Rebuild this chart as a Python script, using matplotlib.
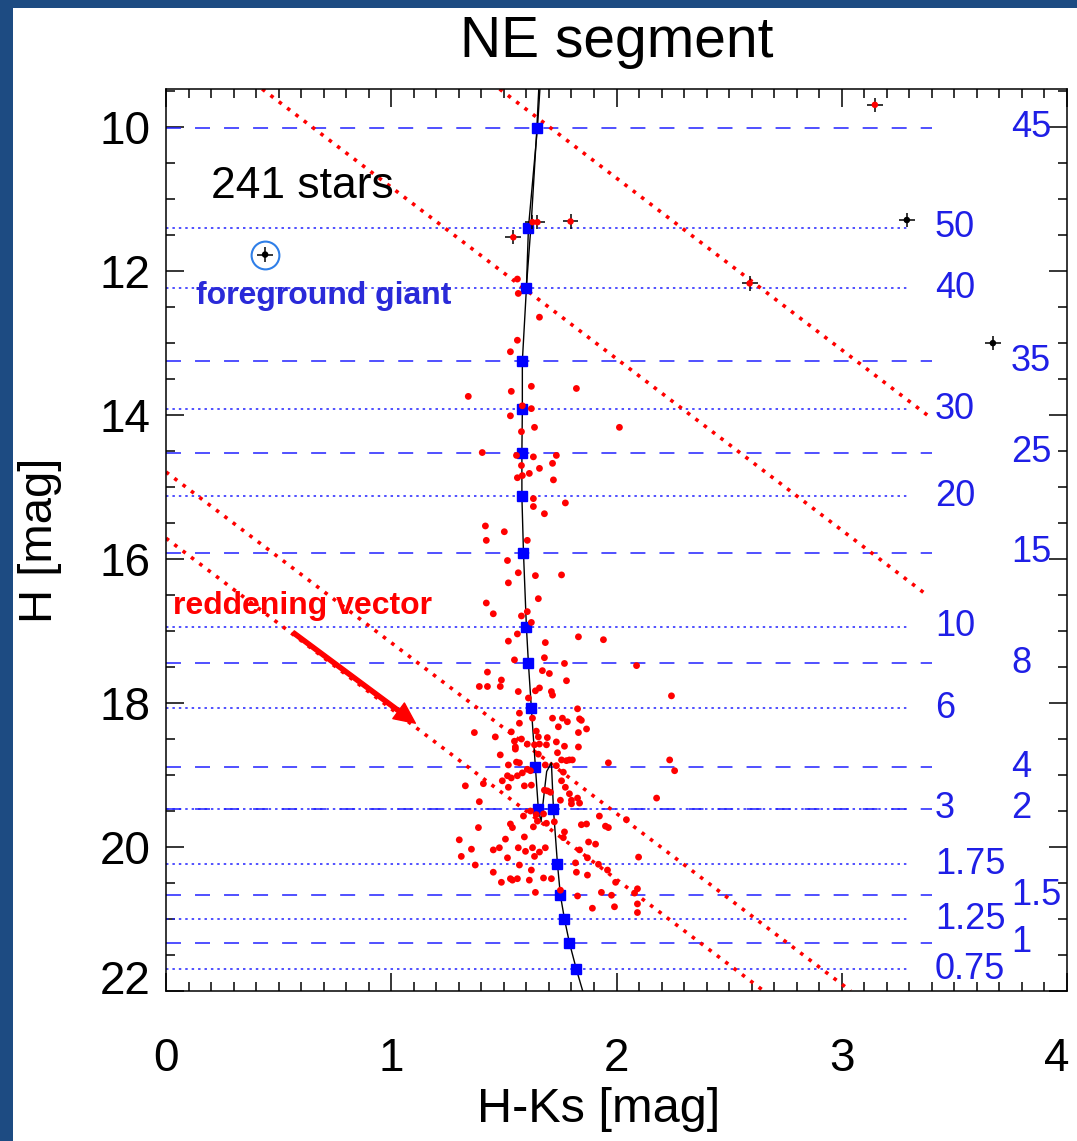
import matplotlib.pyplot as plt
from matplotlib.patches import Rectangle
from matplotlib.ticker import MultipleLocator
from matplotlib.transforms import ScaledTranslation

plt.rcParams['font.family'] = ['Liberation Sans', 'DejaVu Sans']

# faint stars (red dots): H-Ks colour and H magnitude
star_col = [1.56, 1.564, 1.658, 1.56, 1.529, 1.622, 1.822, 1.342, 1.533, 1.582,
            1.622, 1.529, 1.636, 1.578, 2.013, 1.404, 1.556, 1.631, 1.733, 1.578,
            1.716, 1.658, 1.56, 1.582, 1.613, 1.72, 1.631, 1.773, 1.631, 1.68,
            1.418, 1.502, 1.422, 1.604, 1.516, 1.564, 1.64, 1.756, 1.52, 1.653,
            1.422, 1.453, 1.578, 1.604, 1.622, 1.56, 1.52, 1.684, 1.831, 1.942,
            1.547, 1.68, 1.769, 2.089, 1.427, 1.671, 1.702, 1.489, 1.778, 1.391,
            1.427, 1.484, 1.564, 1.64, 1.658, 1.711, 1.716, 1.609, 2.244, 1.827,
            1.569, 1.627, 1.716, 1.76, 1.836, 1.844, 1.782, 1.569, 1.742, 1.867,
            1.369, 1.533, 1.831, 1.644, 1.462, 1.547, 1.578, 1.653, 1.693, 1.733,
            1.551, 1.604, 1.636, 1.658, 1.689, 1.769, 1.831, 1.484, 1.551, 1.653,
            1.738, 1.756, 1.778, 1.791, 1.804, 1.556, 1.569, 1.964, 2.236, 2.258,
            1.52, 1.684, 1.733, 1.582, 1.604, 1.618, 1.764, 1.56, 1.516, 1.533,
            1.329, 1.409, 1.493, 1.52, 1.591, 1.622, 1.756, 1.773, 1.68, 1.693,
            1.707, 1.791, 1.827, 1.751, 1.8, 1.8, 1.836, 1.391, 2.178, 1.924,
            2.044, 1.587, 1.618, 1.644, 1.676, 1.649, 1.689, 1.724, 1.867, 1.844,
            1.951, 1.964, 1.631, 1.387, 1.529, 1.538, 1.769, 1.302, 1.507, 1.591,
            1.764, 1.876, 1.907, 1.356, 1.453, 1.48, 1.564, 1.596, 1.627, 1.658,
            1.684, 1.836, 2.098, 1.311, 1.516, 1.636, 1.871, 1.373, 1.569, 1.92,
            1.818, 1.96, 1.453, 1.622, 1.529, 1.56, 1.676, 1.711, 1.822, 1.489,
            1.538, 1.613, 1.871, 1.64, 1.827, 1.933, 1.996, 2.093, 2.08, 1.893,
            1.991, 2.093, 2.093, 1.751, 1.978]
star_mag = [12.11, 12.31, 12.64, 12.96, 13.12, 13.60, 13.63, 13.74, 13.67, 13.87,
            13.91, 14.01, 14.17, 14.23, 14.17, 14.52, 14.56, 14.58, 14.56, 14.70,
            14.67, 14.74, 14.87, 14.84, 14.81, 14.90, 15.16, 15.22, 15.27, 15.37,
            15.54, 15.62, 15.74, 15.74, 16.02, 16.19, 16.23, 16.22, 16.33, 16.55,
            16.61, 16.76, 16.79, 16.73, 16.88, 17.04, 17.14, 17.16, 17.08, 17.12,
            17.40, 17.37, 17.45, 17.48, 17.57, 17.55, 17.59, 17.68, 17.69, 17.77,
            17.77, 17.77, 17.84, 17.83, 17.79, 17.84, 17.89, 17.93, 17.90, 18.08,
            18.14, 18.21, 18.21, 18.21, 18.22, 18.24, 18.26, 18.28, 18.33, 18.36,
            18.41, 18.40, 18.41, 18.39, 18.47, 18.53, 18.50, 18.47, 18.48, 18.54,
            18.61, 18.57, 18.58, 18.57, 18.58, 18.60, 18.61, 18.72, 18.64, 18.71,
            18.69, 18.79, 18.80, 18.79, 18.79, 18.82, 18.83, 18.83, 18.79, 18.94,
            18.86, 18.86, 18.87, 18.97, 18.92, 18.94, 18.96, 19.01, 19.01, 19.04,
            19.15, 19.12, 19.08, 19.17, 19.15, 19.14, 19.08, 19.17, 19.21, 19.22,
            19.24, 19.26, 19.32, 19.35, 19.35, 19.40, 19.39, 19.37, 19.32, 19.57,
            19.62, 19.57, 19.50, 19.55, 19.54, 19.64, 19.67, 19.65, 19.68, 19.69,
            19.71, 19.73, 19.72, 19.73, 19.68, 19.73, 19.79, 19.90, 19.89, 19.86,
            19.87, 19.93, 19.96, 20.03, 20.04, 20.01, 20.01, 20.06, 20.01, 20.07,
            20.01, 20.04, 20.14, 20.13, 20.15, 20.13, 20.15, 20.25, 20.25, 20.24,
            20.22, 20.32, 20.35, 20.32, 20.44, 20.44, 20.43, 20.44, 20.35, 20.49,
            20.46, 20.46, 20.39, 20.63, 20.68, 20.63, 20.49, 20.58, 20.64, 20.85,
            20.83, 20.79, 20.91, 20.60, 20.67]

# bright stars with error bars
bright_col = [3.147, 3.289, 3.671, 2.591, 1.796, 1.627, 1.649, 1.542, 0.44]
bright_mag = [9.69, 11.29, 13.0, 12.17, 11.31, 11.32, 11.32, 11.53, 11.77]
bright_face = ['red', 'black', 'black', 'red', 'red', 'red', 'red', 'red', 'black']
giant_col = 0.44
giant_mag = 11.77

# isochrone mass levels (dotted lines, labels in left column)
dot_mass = ['50', '40', '30', '20', '10', '6', '3', '1.75', '1.25', '0.75']
dot_mag = [11.40, 12.24, 13.92, 15.13, 16.94, 18.07, 19.47, 20.24, 21.0, 21.70]
dot_iso_col = [1.609, 1.600, 1.582, 1.58, 1.60, 1.622, 1.653, 1.738, 1.769, 1.822]

# isochrone mass levels (dashed lines, labels in right column)
dash_mass = ['45', '35', '25', '15', '8', '4', '2', '1.5', '1']
dash_mag = [10.01, 13.25, 14.52, 15.91, 17.45, 18.89, 19.47, 20.67, 21.33]
dash_iso_col = [1.649, 1.582, 1.58, 1.587, 1.609, 1.64, 1.72, 1.751, 1.791]

# isochrone track
iso_col = [1.85, 1.822, 1.791, 1.769, 1.751, 1.738, 1.72, 1.711, 1.69, 1.677,
           1.665, 1.653, 1.64, 1.622, 1.609, 1.60, 1.587, 1.58, 1.58, 1.582,
           1.582, 1.60, 1.609, 1.649, 1.66]
iso_mag = [22.0, 21.70, 21.33, 21.0, 20.67, 20.24, 19.47, 18.83, 18.95, 19.3,
           19.65, 19.47, 18.89, 18.07, 17.45, 16.94, 15.91, 15.13, 14.52, 13.92,
           13.25, 12.24, 11.40, 10.01, 9.47]
iso2_col = [1.598, 1.622, 1.645, 1.655]
iso2_mag = [12.3, 11.3, 10.1, 9.47]

# reddening lines (start / end points)
red_col0 = [1.481, 0.427, 0.0, 0.0]
red_mag0 = [9.47, 9.47, 14.79, 15.71]
red_col1 = [3.38, 3.37, 3.04, 2.654]
red_mag1 = [14.0, 16.48, 22.0, 22.0]

vec_start = (0.564, 17.02)
vec_end = (1.107, 18.28)

fig = plt.figure(figsize=(10.77, 11.41), dpi=100)
fig.patch.set_facecolor('#1d4b82')
fig.add_artist(Rectangle((13 / 1077, 0), 1, 1 - 8 / 1141, transform=fig.transFigure,
                         facecolor='white', edgecolor='none', zorder=-5))

ax = fig.add_axes([166 / 1077, 1 - 991 / 1141, 901 / 1077, 902 / 1141])
ax.set_xlim(0, 4)
ax.set_ylim(22, 9.47)

# horizontal mass lines and labels
for m, lab in zip(dot_mag, dot_mass):
    ax.plot([0, 3.29], [m, m], color='#2020ff', lw=1.1, dashes=(1.6, 2.6))
    ax.text(3.413, m, lab, color='#1f1fe6', fontsize=26, ha='left', va='center')
for m, lab in zip(dash_mag, dash_mass):
    ax.plot([0, 3.40], [m, m], color='#2020ff', lw=1.1, dashes=(9.8, 9.2))
    ax.text(3.751, m, lab, color='#1f1fe6', fontsize=26, ha='left', va='center')

# reddening lines
for c0, m0, c1, m1 in zip(red_col0, red_mag0, red_col1, red_mag1):
    ax.plot([c0, c1], [m0, m1], color='red', lw=2.6, dashes=(1, 1.9))

# isochrone
ax.plot(iso_col, iso_mag, color='black', lw=1)
ax.plot(iso2_col, iso2_mag, color='black', lw=1)
ax.plot(dot_iso_col, dot_mag, 's', color='blue', ms=6.5, zorder=4)
ax.plot(dash_iso_col, dash_mag, 's', color='blue', ms=6.5, zorder=4)

# stars
ax.scatter(star_col, star_mag, s=24, color='red', edgecolors='none', zorder=5)
ax.errorbar(bright_col, bright_mag, xerr=0.035, yerr=0.1, fmt='none',
            ecolor='black', elinewidth=1.1, capsize=0, zorder=5)
ax.scatter(bright_col, bright_mag, s=22, c=bright_face, edgecolors='none', zorder=6)
ax.plot(giant_col, giant_mag, 'o', ms=20, mfc='none', mec='#2f7fe8', mew=1.5, zorder=6)

# reddening vector
ax.annotate('', xy=vec_end, xytext=vec_start,
            arrowprops=dict(width=3, headwidth=14, headlength=15, color='red', shrink=0))

ax.text(0.20, 10.83, '241 stars', fontsize=32, va='center')
ax.text(0.133, 12.34, 'foreground giant', fontsize=23, fontweight='bold',
        color='#2a2ad8', va='center')
ax.text(0.031, 16.65, 'reddening vector', fontsize=23, fontweight='bold',
        color='red', va='center')

ax.set_xticks([0, 1, 2, 3, 4])
ax.set_yticks([10, 12, 14, 16, 18, 20, 22])
ax.xaxis.set_minor_locator(MultipleLocator(0.1))
ax.yaxis.set_minor_locator(MultipleLocator(0.5))
ax.tick_params(which='both', direction='in', top=True, right=True, width=1.1, labelsize=33)
ax.tick_params(which='major', length=13)
ax.tick_params(which='minor', length=6.5)
ax.tick_params(axis='x', pad=33)
ax.tick_params(axis='y', pad=11)
for sp in ax.spines.values():
    sp.set_linewidth(1.1)

# edge labels sit a little inside in the original
fig.canvas.draw()
lab22 = ax.yaxis.get_ticklabels()[-1]
lab22.set_transform(lab22.get_transform() + ScaledTranslation(0, 14 / 100, fig.dpi_scale_trans))
lab4 = ax.xaxis.get_ticklabels()[-1]
lab4.set_transform(lab4.get_transform() + ScaledTranslation(-10 / 100, 0, fig.dpi_scale_trans))

fig.text(617 / 1077, 1 - 42 / 1141, 'NE segment', fontsize=41, ha='center', va='center')
fig.text(599 / 1077, 1 - 1110 / 1141, 'H-Ks [mag]', fontsize=35, ha='center', va='center')
fig.text(40 / 1077, 1 - 540 / 1141, 'H [mag]', fontsize=34, ha='center', va='center',
         rotation=90)

fig.savefig('out.png', dpi=100, facecolor=fig.get_facecolor())
